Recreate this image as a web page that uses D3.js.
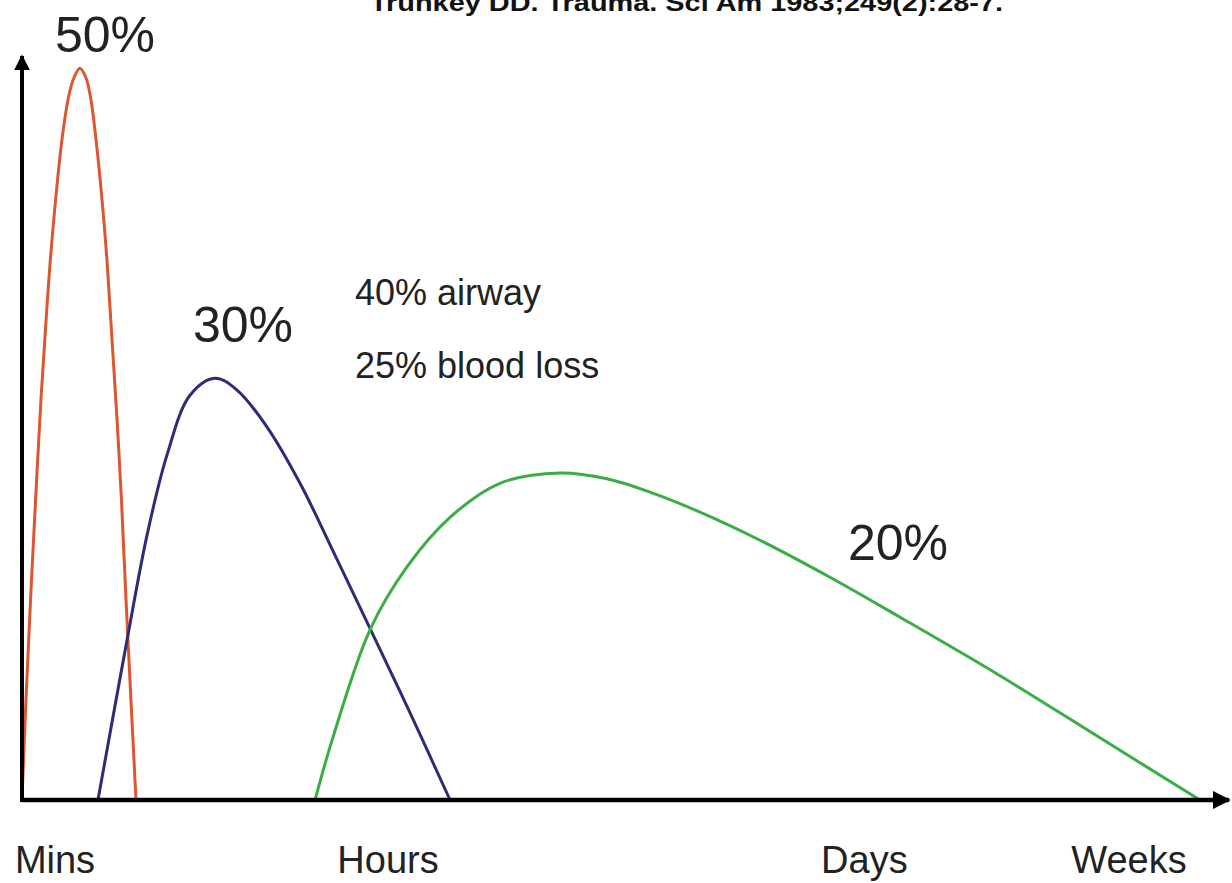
<!DOCTYPE html>
<html><head><meta charset="utf-8">
<script src="https://cdn.jsdelivr.net/npm/d3@7"></script>
<style>
html,body{margin:0;padding:0;background:#fff;}
svg{display:block;font-family:"Liberation Sans",Arial,Helvetica,sans-serif;}
</style></head>
<body>
<svg id="chart" width="1232" height="883"></svg>
<script>
// ---- data (time in arbitrary units 0-100, mortality relative 0-100) ----
const redX   = [0, 0.33, 0.71, 1.13, 1.58, 2.06, 2.5, 3.33, 3.92, 4.33, 4.83, 5.33, 5.75, 6.17, 6.67, 7.08, 7.5, 7.92, 8.29, 8.67, 9.08, 9.5];
const redY   = [0, 13.5, 27, 40.5, 54.1, 66.2, 75.7, 89.2, 95.3, 97.6, 98.9, 97.6, 94.6, 89.2, 81.1, 73, 62.2, 51.4, 40.5, 27, 13.5, 0];
const blueX  = [6.33, 7.58, 8.83, 10.42, 12.08, 14.0, 16.08, 17.92, 20.42, 23.17, 26.08, 29.0, 32.33, 35.67];
const blueY  = [0, 11.2, 22.3, 35.8, 46.6, 54.7, 57.0, 55.4, 50.4, 42.8, 33.1, 23.2, 11.8, 0];
const greenX = [24.42, 25.92, 29.0, 32.08, 35.67, 39.83, 44.83, 48.75, 52.33, 56.5, 61.5, 67.33, 73.17, 81.5, 89.83, 98.17];
const greenY = [0, 8.5, 23.0, 31.5, 38.2, 42.8, 44.2, 43.4, 41.6, 38.9, 35.1, 30.1, 24.7, 16.8, 8.4, 0];

const tickLabels = ["Mins", "Hours", "Days", "Weeks"];
const tickPos    = [2.75, 30.5, 70.2, 92.25];

const peakLabels = ["50%", "30%", "20%"];
const peakLabelX = [6.92, 18.42, 73.0];
const peakLabelY = [101.1, 61.9, 32.4];

const noteLabels = ["40% airway", "25% blood loss"];
const noteX = [27.75, 27.75];
const noteY = [66.9, 57.0];

const titleText = "Trunkey DD. Trauma. Sci Am 1983;249(2):28-7.";

// ---- drawing ----
const svg = d3.select("#chart");
const x = d3.scaleLinear().domain([0, 100]).range([22, 1222]);
const y = d3.scaleLinear().domain([0, 100]).range([800, 60]);

svg.append("rect").attr("width", 1232).attr("height", 883).attr("fill", "#fff");

// title (cut off at top, as in the source image)
svg.append("text")
  .attr("x", 370).attr("y", 11)
  .attr("font-size", 24).attr("font-weight", "bold").attr("fill", "#111")
  .attr("textLength", 633).attr("lengthAdjust", "spacingAndGlyphs")
  .text(titleText);

const line = d3.line().x(d => x(d[0])).y(d => y(d[1])).curve(d3.curveCatmullRom.alpha(0.5));
const series = [
  {xs: redX, ys: redY, color: "#dd5632"},
  {xs: blueX, ys: blueY, color: "#2d2c78"},
  {xs: greenX, ys: greenY, color: "#3aae45"}
];
series.forEach(s => {
  const pts = s.xs.map((v, i) => [v, s.ys[i]]);
  svg.append("path").datum(pts)
    .attr("d", line).attr("fill", "none")
    .attr("stroke", s.color).attr("stroke-width", 3)
    .attr("stroke-linejoin", "round");
});

// axes with arrows
svg.append("defs").append("marker")
  .attr("id", "arrow").attr("viewBox", "0 0 10 10")
  .attr("refX", 9).attr("refY", 5)
  .attr("markerWidth", 4).attr("markerHeight", 4)
  .attr("markerUnits", "strokeWidth")
  .attr("orient", "auto")
  .append("path").attr("d", "M0,0 L10,5 L0,10 Z").attr("fill", "#000");

svg.append("line")
  .attr("x1", x(0)).attr("y1", y(0))
  .attr("x2", x(100) + 7).attr("y2", y(0))
  .attr("stroke", "#000").attr("stroke-width", 4.5)
  .attr("marker-end", "url(#arrow)");
svg.append("line")
  .attr("x1", x(0)).attr("y1", y(0) + 2)
  .attr("x2", x(0)).attr("y2", 56)
  .attr("stroke", "#000").attr("stroke-width", 4)
  .attr("marker-end", "url(#arrow)");

// x category labels
svg.selectAll("text.tick").data(tickLabels).enter().append("text")
  .attr("class", "tick")
  .attr("x", (d, i) => x(tickPos[i])).attr("y", 873)
  .attr("text-anchor", "middle").attr("font-size", 38).attr("fill", "#222")
  .text(d => d);

// peak labels
svg.selectAll("text.peak").data(peakLabels).enter().append("text")
  .attr("class", "peak")
  .attr("x", (d, i) => x(peakLabelX[i])).attr("y", (d, i) => y(peakLabelY[i]))
  .attr("text-anchor", "middle").attr("font-size", 50).attr("fill", "#222")
  .text(d => d);

// notes
svg.selectAll("text.note").data(noteLabels).enter().append("text")
  .attr("class", "note")
  .attr("x", (d, i) => x(noteX[i])).attr("y", (d, i) => y(noteY[i]))
  .attr("font-size", 36).attr("fill", "#222")
  .text(d => d);
</script>
</body></html>
